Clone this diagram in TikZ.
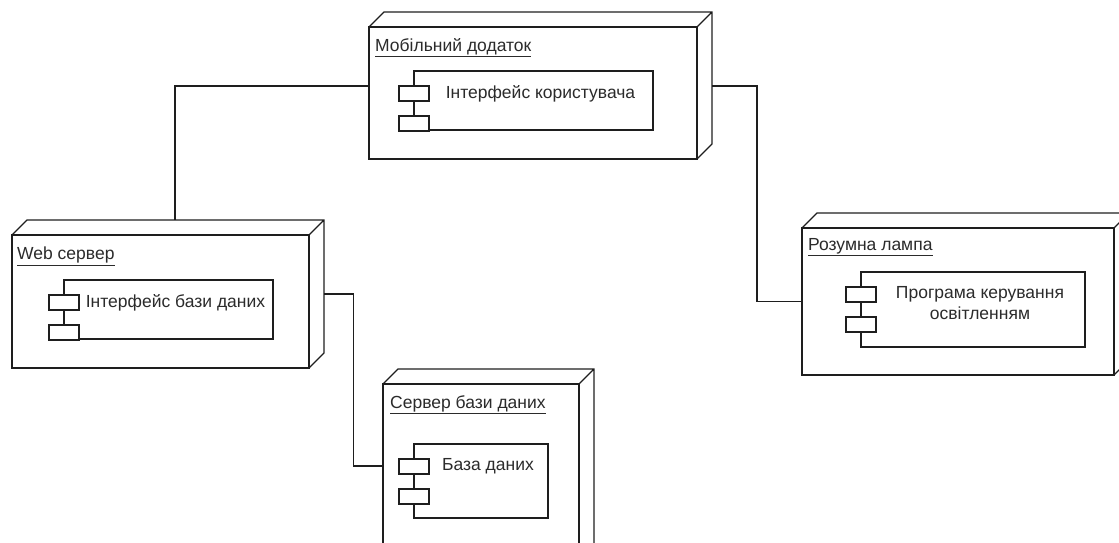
\documentclass[tikz,border=0pt]{standalone}
\usepackage{fontspec}
\setmainfont{Liberation Sans}
\usepackage{tikz}
\usetikzlibrary{calc,positioning}
\definecolor{linec}{HTML}{1E1E1E}
\definecolor{textc}{HTML}{2B2B2B}
\tikzset{
  ln/.style={draw=linec,line width=1.3pt,line join=miter},
  dev/.style={ln,fill=white,rectangle,anchor=north west,inner sep=0pt,outer sep=0pt,
    append after command={\pgfextra{
      \draw[ln] (\tikzlastnode.north west) -- ++(15,-15) -- ($(\tikzlastnode.north east)+(15,-15)$)
        -- ($(\tikzlastnode.south east)+(15,-15)$) -- (\tikzlastnode.south east)
        ($(\tikzlastnode.north east)+(15,-15)$) -- (\tikzlastnode.north east);}}},
  comp/.style={ln,fill=white,rectangle,anchor=north west,inner sep=0pt,outer sep=0pt},
  tab/.style={ln,fill=white},
  ttl/.style={anchor=north west,inner sep=0pt,text=textc,font=\fontsize{17.5}{21}\selectfont},
  ctext/.style={anchor=north,inner sep=0pt,align=center,text=textc,font=\fontsize{17.5}{21}\selectfont},
  link/.style={ln}
}
\begin{document}
\begin{tikzpicture}[x=1pt,y=-1pt]
\useasboundingbox (0,0) rectangle (1119,542);
% deployment nodes
\node[dev,minimum width=328,minimum height=132] (mob) at (369,27) {};
\node[dev,minimum width=297,minimum height=133] (web) at (12,235) {};
\node[dev,minimum width=312,minimum height=147] (lamp) at (802,228) {};
\node[dev,minimum width=196,minimum height=179] (dbs) at (383,384) {};
\node[ttl] (mobt) at ([xshift=6pt,yshift=-11pt]mob.north west) {\underline{Мобільний додаток}};
\node[ttl] (webt) at ([xshift=5pt,yshift=-12pt]web.north west) {\underline{Web сервер}};
\node[ttl] (lampt) at ([xshift=6pt,yshift=-10pt]lamp.north west) {\underline{Розумна лампа}};
\node[ttl] (dbst) at ([xshift=7pt,yshift=-11pt]dbs.north west) {\underline{Сервер бази даних}};
% components
\node[comp,minimum width=239,minimum height=59] (mobc) at (414,71) {};
\node[comp,minimum width=209,minimum height=59] (webc) at (64,280) {};
\node[comp,minimum width=224,minimum height=75] (lampc) at (861,272) {};
\node[comp,minimum width=134,minimum height=74] (dbsc) at (414,444) {};
\foreach \c in {mobc,webc,lampc,dbsc}
  \draw[tab] ($(\c.north west)+(-15,15)$) rectangle ++(30,15)
             ($(\c.north west)+(-15,45)$) rectangle ++(30,15);
\node[ctext] (mobx) at ([xshift=7pt,yshift=-14pt]mobc.north) {Інтерфейс користувача};
\node[ctext] (webx) at ([xshift=7pt,yshift=-14pt]webc.north) {Інтерфейс бази даних};
\node[ctext] (lampx) at ([xshift=7pt,yshift=-14pt]lampc.north) {Програма керування\\освітленням};
\node[ctext] (dbsx) at ([xshift=7pt,yshift=-14pt]dbsc.north) {База даних};
% links
\coordinate (mobl) at ([yshift=7pt]mob.west);
\coordinate (mobr) at ([xshift=15pt,yshift=7pt]mob.east);
\coordinate (webtop) at ([xshift=14.5pt,yshift=15pt]web.north);
\coordinate (webr) at ([xshift=15pt,yshift=7.5pt]web.east);
\coordinate (dbsl) at ([yshift=7.5pt]dbs.west);
\draw[link] (mobl) -| (webtop);
\draw[link] (mobr) -| ($(mobr)!.5!(lamp.west)$) |- (lamp.west);
\draw[link] (webr) -| ($(webr)!.5!(dbsl)$) |- (dbsl);
\end{tikzpicture}
\end{document}
